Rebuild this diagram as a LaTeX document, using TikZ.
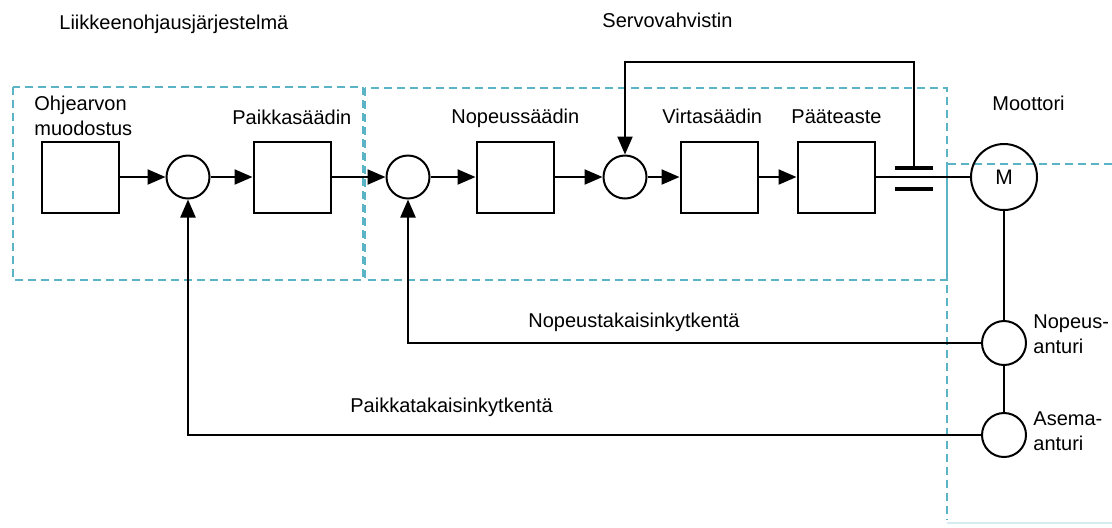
\documentclass[tikz,border=0pt]{standalone}
\usepackage{fontspec}
\setmainfont{Liberation Sans}
\usetikzlibrary{arrows.meta}
\usetikzlibrary{calc}
\definecolor{color_alue_raja}{HTML}{5AB4C6}
\def\lohkoleveys{38.5pt}
\def\lohkokorkeus{35.5pt}

\begin{document}
\begin{tikzpicture}[x=0.5pt, y=-0.5pt,
        lohko/.style={draw, line width=1pt, minimum width=\lohkoleveys, minimum height=\lohkokorkeus, inner sep=0pt},
        summa/.style={circle, draw, line width=1pt, minimum size=21.5pt, inner sep=0pt},
        signaali/.style={line width=1.1pt, -{Triangle[length=9pt,width=7.5pt]}},
        johdin/.style={line width=1.1pt},
        alue/.style={draw=color_alue_raja, line width=0.6pt, dash pattern=on 4pt off 2.5pt},
        teksti/.style={anchor=base west, inner sep=0pt, font=\fontsize{10}{12.5}\selectfont}]
        \useasboundingbox (0,0) rectangle (1112,527);

        % dashed areas
        \draw[alue] (13,87) rectangle (363,280);
        \draw[alue] (365,88) rectangle (947,280);
        \draw[alue] (1112,164) -- (947,164) -- (947,520);
        \draw[color_alue_raja!25, line width=0.6pt] (947,523) -- (1112,523);

        % blocks
        \node[lohko] (ohje) at (80,177) {};
        \node[lohko] (paikka) at (292,177) {};
        \node[lohko] (nopeus) at (515,177) {};
        \node[lohko] (virta) at (719,177) {};
        \node[lohko] (paate) at (836,177) {};

        % summing points
        \node[summa] (summa1) at (188,177) {};
        \node[summa] (summa2) at (408,177) {};
        \node[summa] (summa3) at (625,177) {};

        % motor and sensors
        \node[summa, minimum size=33pt, font=\fontsize{10.5}{12}\selectfont] (moottori) at (1004,177) {M};
        \node[summa, minimum size=22pt] (nanturi) at (1004,343) {};
        \node[summa, minimum size=22pt] (aanturi) at (1004,435) {};

        % forward path
        \foreach \a/\b in {ohje/summa1, summa1/paikka, paikka/summa2, summa2/nopeus, nopeus/summa3, summa3/virta, virta/paate}
            \draw[signaali] (\a) -- (\b);

        % current measurement
        \coordinate (ylalevy) at (914,168);
        \coordinate (alalevy) at (914,189);
        \coordinate (kaanne) at (914,62);
        \draw[johdin] (paate) -- (moottori);
        \draw[line width=1.6pt] ($(ylalevy)+(-19,0)$) -- ($(ylalevy)+(19,0)$);
        \draw[line width=1.6pt] ($(alalevy)+(-19,0)$) -- ($(alalevy)+(19,0)$);
        \draw[signaali] (ylalevy) -- (kaanne) -| (summa3.north);

        % sensors and feedback
        \draw[johdin] (moottori) -- (nanturi);
        \draw[johdin] (nanturi) -- (aanturi);
        \draw[signaali] (nanturi.west) -| (summa2.south);
        \draw[signaali] (aanturi.west) -| (summa1.south);

        % labels
        \node[teksti] (t_liike) at (59,29) {Liikkeenohjausjärjestelmä};
        \node[teksti] (t_servo) at (602,27) {Servovahvistin};
        \node[teksti, align=left, anchor=north west] (t_ohje) at (34,96) {Ohjearvon\\muodostus};
        \node[teksti] (t_paikka) at (232,124) {Paikkasäädin};
        \node[teksti] (t_nopeus) at (451,123) {Nopeussäädin};
        \node[teksti] (t_virta) at (662,123) {Virtasäädin};
        \node[teksti] (t_paate) at (791,123) {Pääteaste};
        \node[teksti] (t_moottori) at (992,110) {Moottori};
        \node[teksti] (t_nkytk) at (528,327) {Nopeustakaisinkytkentä};
        \node[teksti] (t_pkytk) at (350,412) {Paikkatakaisinkytkentä};
        \node[teksti, align=left, anchor=north west] (t_nanturi) at (1033,314) {Nopeus-\\anturi};
        \node[teksti, align=left, anchor=north west] (t_aanturi) at (1033,411) {Asema-\\anturi};
    \end{tikzpicture}
\end{document}
